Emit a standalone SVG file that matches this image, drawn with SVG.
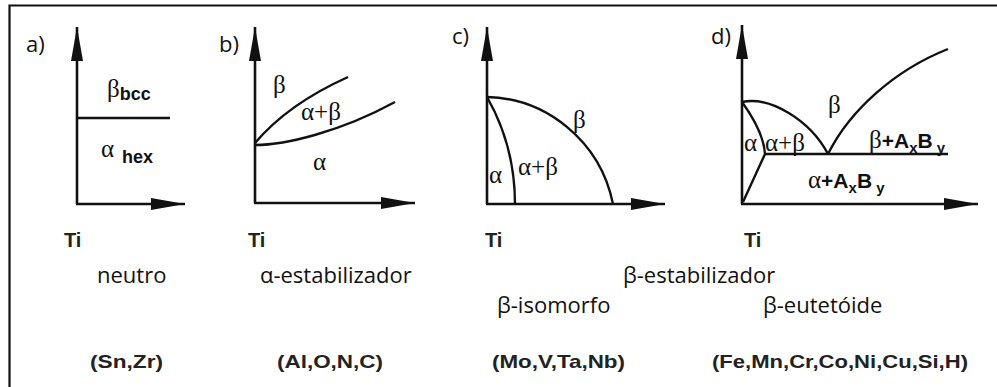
<svg xmlns="http://www.w3.org/2000/svg" width="997" height="387" viewBox="0 0 997 387">
<style>
.ax{fill:none;stroke:#111;stroke-width:2.6}
.cv{fill:none;stroke:#111;stroke-width:2.4}
.lab{font-family:"Open Sans","Liberation Sans",sans-serif;font-size:22px;fill:#111}
.ti{font-family:"Liberation Sans",Arial,sans-serif;font-size:20px;font-weight:bold;fill:#222}
.ph{font-family:"Liberation Serif","Times New Roman",serif;font-size:25px;fill:#111}
.sb{font-family:"Liberation Sans",Arial,sans-serif;font-weight:bold;fill:#111}
.el{font-family:"Liberation Sans",Arial,sans-serif;font-size:19px;font-weight:bold;fill:#222}
.cap{font-family:"Open Sans","Liberation Sans",sans-serif;font-size:22px;fill:#111}
</style>
<defs>
<marker id="ah" viewBox="0 0 34 12" refX="34" refY="6" markerWidth="34" markerHeight="12" markerUnits="userSpaceOnUse" orient="auto">
<path d="M0,0 L34,6 L0,12 z" fill="#111"/>
</marker>
</defs>
<rect width="997" height="387" fill="#fff"/>
<path d="M9.5,392 V5.5 H1000" fill="none" stroke="#111" stroke-width="2.2"/>

<g id="connectors">
<path class="ax" d="M77,204 V27" marker-end="url(#ah)"/>
<path class="ax" d="M76,204 H185" marker-end="url(#ah)"/>
<path class="cv" d="M77,118 H170"/>
<path class="ax" d="M255,203 V27" marker-end="url(#ah)"/>
<path class="ax" d="M254,203 H415" marker-end="url(#ah)"/>
<path class="cv" d="M255,143 Q288,104 348,77"/>
<path class="cv" d="M255,145 C285,145 340,132 395,102"/>
<path class="ax" d="M487,204 V27" marker-end="url(#ah)"/>
<path class="ax" d="M486,204 H665" marker-end="url(#ah)"/>
<path class="cv" d="M487,97 C545,98 600,140 613,204"/>
<path class="cv" d="M487,97 C503,125 515,160 515,204"/>
<path class="ax" d="M742,204 V25" marker-end="url(#ah)"/>
<path class="ax" d="M741,204 H978" marker-end="url(#ah)"/>
<path class="cv" d="M742,102 C770,96 810,120 828,154"/>
<path class="cv" d="M828,154 C850,110 895,70 948,49"/>
<path class="cv" d="M742,102 C755,120 764,138 765,154 L743,202"/>
<path class="cv" d="M765,154 H948"/>
</g>

<g id="panel-a">
<text class="lab" x="26" y="52">a)</text>
<text x="107" y="97"><tspan class="ph" font-size="23" font-family="Liberation Sans, sans-serif">β</tspan><tspan class="sb" font-size="18" dy="3">bcc</tspan></text>
<text x="101" y="157"><tspan class="ph" font-size="24">α</tspan><tspan class="sb" font-size="18" x="122" dy="6">hex</tspan></text>
<text class="ti" x="64" y="247">Ti</text>
</g>

<g id="panel-b">
<text class="lab" x="219" y="52">b)</text>
<text class="ph" x="273" y="93">β</text>
<text class="ph" x="301" y="120">α+β</text>
<text class="ph" x="313" y="170">α</text>
<text class="ti" x="248" y="247">Ti</text>
</g>

<g id="panel-c">
<text class="lab" x="452" y="44">c)</text>
<text class="ph" x="573" y="128">β</text>
<text class="ph" x="518" y="175">α+β</text>
<text class="ph" x="489" y="183">α</text>
<text class="ti" x="485" y="247">Ti</text>
</g>

<g id="panel-d">
<text class="lab" x="711" y="44">d)</text>
<text class="ph" x="828" y="113">β</text>
<text class="ph" font-size="22" x="744" y="151">α</text>
<text class="ph" font-size="22" x="765" y="151">α+β</text>
<text x="869" y="148"><tspan class="ph">β</tspan><tspan class="sb" font-size="21">+A</tspan><tspan class="sb" font-size="15" dy="5">x</tspan><tspan class="sb" font-size="21" dy="-5">B</tspan><tspan class="sb" font-size="15" dy="5"> y</tspan></text>
<text x="808" y="188"><tspan class="ph">α</tspan><tspan class="sb" font-size="21">+A</tspan><tspan class="sb" font-size="15" dy="5">x</tspan><tspan class="sb" font-size="21" dy="-5">B</tspan><tspan class="sb" font-size="15" dy="5"> y</tspan></text>
<text class="ti" x="744" y="247">Ti</text>
</g>

<g id="captions">
<text class="cap" x="97" y="283">neutro</text>
<text class="cap" x="260" y="283">α-estabilizador</text>
<text class="cap" x="623" y="283">β-estabilizador</text>
<text class="cap" x="497" y="313">β-isomorfo</text>
<text class="cap" x="763" y="313">β-eutetóide</text>
<text class="el" x="90" y="368" textLength="73" lengthAdjust="spacingAndGlyphs">(Sn,Zr)</text>
<text class="el" x="277" y="368" textLength="106" lengthAdjust="spacingAndGlyphs">(Al,O,N,C)</text>
<text class="el" x="492" y="368" textLength="133" lengthAdjust="spacingAndGlyphs">(Mo,V,Ta,Nb)</text>
<text class="el" x="712" y="368" textLength="256" lengthAdjust="spacingAndGlyphs">(Fe,Mn,Cr,Co,Ni,Cu,Si,H)</text>
</g>
</svg>
